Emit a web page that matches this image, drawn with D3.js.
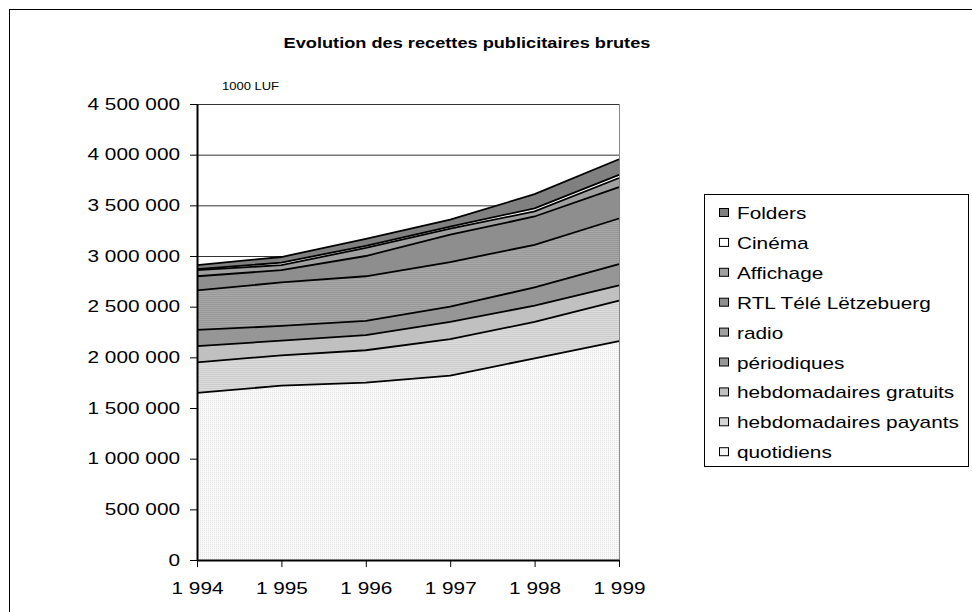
<!DOCTYPE html>
<html>
<head>
<meta charset="utf-8">
<script src="https://cdn.jsdelivr.net/npm/d3@7"></script>
<style>
  body { margin: 0; background: #fff; }
  svg { font-family: Arial, "Liberation Sans", sans-serif; }
</style>
</head>
<body>
<svg id="chart" width="972" height="612"></svg>
<script>
// Data (1000 LUF)
const years = [1994, 1995, 1996, 1997, 1998, 1999];
const quotidiens = [1650000, 1720000, 1750000, 1820000, 1990000, 2160000];
const hebdoPayants = [300000, 300000, 320000, 360000, 360000, 400000];
const hebdoGratuits = [160000, 145000, 150000, 170000, 160000, 150000];
const periodiques = [160000, 145000, 140000, 150000, 180000, 210000];
const radio = [390000, 430000, 440000, 440000, 420000, 450000];
const rtl = [140000, 120000, 200000, 270000, 280000, 310000];
const affichage = [60000, 50000, 80000, 60000, 50000, 90000];
const cinema = [10000, 25000, 20000, 20000, 30000, 30000];
const folders = [40000, 55000, 70000, 70000, 140000, 155000];
const seriesNames = ["quotidiens", "hebdomadaires payants", "hebdomadaires gratuits", "périodiques",
  "radio", "RTL Télé Lëtzebuerg", "Affichage", "Cinéma", "Folders"];
const yTicks = [0, 500000, 1000000, 1500000, 2000000, 2500000, 3000000, 3500000, 4000000, 4500000];

// the picture is wider than the type: stretch text horizontally
const SX = 1.3;

(function() {
  const svg = d3.select('#chart');
  const seriesValues = [quotidiens, hebdoPayants, hebdoGratuits, periodiques, radio, rtl, affichage, cinema, folders];
  const fills = ["url(#dots)", "url(#lightStripes)", "#c0c0c0", "#969696", "url(#stripes)",
    "#8e8e8e", "#a0a0a0", "#ffffff", "#808080"];

  const rows = years.map((y, i) => {
    const row = {year: y};
    seriesNames.forEach((name, s) => { row[name] = seriesValues[s][i]; });
    return row;
  });
  const stacked = d3.stack().keys(seriesNames)(rows);

  const locale = d3.formatLocale({decimal: ",", thousands: " ", grouping: [3], currency: ["", ""]});
  const fmt = locale.format(",d");

  const x = d3.scaleLinear().domain([1994, 1999]).range([197, 619]);
  const y = d3.scaleLinear().domain([0, 4500000]).range([560, 104]);

  createPatterns(svg);

  // outer frame (runs off the right and bottom)
  svg.append("rect").attr("x", 9.5).attr("y", 9.5).attr("width", 1000).attr("height", 1000)
    .attr("fill", "#fff").attr("stroke", "#000").attr("stroke-width", 1);

  stretchText(svg.append("text").attr("x", 467).attr("y", 48).attr("text-anchor", "middle")
    .attr("font-size", 14).attr("font-weight", "bold").text("Evolution des recettes publicitaires brutes"));
  stretchText(svg.append("text").attr("x", 222).attr("y", 90).attr("font-size", 10).text("1000 LUF"));

  // gridlines
  svg.append("g").selectAll("line").data(yTicks.slice(1)).enter().append("line")
    .attr("x1", x(1994)).attr("x2", x(1999)).attr("y1", d => y(d) + 0.5).attr("y2", d => y(d) + 0.5)
    .attr("stroke", "#333").attr("stroke-width", 1);
  svg.append("line").attr("x1", x(1999) + 0.5).attr("x2", x(1999) + 0.5).attr("y1", y(4500000)).attr("y2", y(0))
    .attr("stroke", "#888").attr("stroke-width", 1);

  // areas
  const area = d3.area().x(d => x(d.data.year)).y0(d => y(d[0])).y1(d => y(d[1]));
  const line = d3.line().x(d => x(d.data.year)).y(d => y(d[1]));
  svg.append("g").selectAll("path").data(stacked).enter().append("path")
    .attr("d", area).attr("fill", (d, i) => fills[i]);
  svg.append("g").selectAll("path").data(stacked).enter().append("path")
    .attr("d", line).attr("fill", "none").attr("stroke", "#000").attr("stroke-width", 1.8);

  // axes
  const yAxis = svg.append("g").attr("transform", `translate(${x(1994)},0)`)
    .call(d3.axisLeft(y).tickValues(yTicks).tickFormat(fmt).tickSize(7).tickSizeOuter(0).tickPadding(10));
  const xAxis = svg.append("g").attr("transform", `translate(0,${y(0)})`)
    .call(d3.axisBottom(x).tickValues(years).tickFormat(fmt).tickSize(7).tickSizeOuter(0).tickPadding(16));
  [yAxis, xAxis].forEach(a => {
    a.select(".domain").attr("stroke", "#000").attr("stroke-width", 2);
    a.selectAll(".tick line").attr("stroke", "#000");
    a.selectAll(".tick text").attr("font-size", 16).attr("font-family", "Arial, 'Liberation Sans', sans-serif")
      .attr("fill", "#000").each(function() { stretchText(d3.select(this)); });
  });

  createLegend(svg, fills);
})();

function stretchText(t) {
  const tx = +t.attr("x") || 0;
  t.attr("x", tx / SX).attr("transform", `scale(${SX},1)`);
  return t;
}

function createPatterns(svg) {
  const defs = svg.append("defs");
  const stripes = defs.append("pattern").attr("id", "stripes").attr("patternUnits", "userSpaceOnUse")
    .attr("width", 4).attr("height", 2);
  stripes.append("rect").attr("width", 4).attr("height", 2).attr("fill", "#a8a8a8");
  stripes.append("rect").attr("width", 4).attr("height", 1).attr("fill", "#989898");

  const light = defs.append("pattern").attr("id", "lightStripes").attr("patternUnits", "userSpaceOnUse")
    .attr("width", 4).attr("height", 2);
  light.append("rect").attr("width", 4).attr("height", 2).attr("fill", "#dcdcdc");
  light.append("rect").attr("width", 4).attr("height", 1).attr("fill", "#cdcdcd");

  const dots = defs.append("pattern").attr("id", "dots").attr("patternUnits", "userSpaceOnUse")
    .attr("width", 2).attr("height", 2);
  dots.append("rect").attr("width", 2).attr("height", 2).attr("fill", "#f8f8f8");
  dots.append("rect").attr("width", 1).attr("height", 1).attr("fill", "#e6e6e6");
}

function createLegend(svg, fills) {
  const legend = svg.append("g").attr("class", "legend");
  legend.append("rect").attr("x", 704.5).attr("y", 194.5).attr("width", 264).attr("height", 272)
    .attr("fill", "#fff").attr("stroke", "#000");
  const order = seriesNames.map((d, i) => i).reverse();
  const items = legend.selectAll("g.item").data(order).enter().append("g")
    .attr("transform", (d, i) => `translate(719, ${213 + i * 29.9})`);
  items.append("rect").attr("x", 0.5).attr("y", -4.5).attr("width", 9).attr("height", 8)
    .attr("fill", d => fills[d]).attr("stroke", "#000");
  items.append("text").attr("x", 18).attr("y", 6).attr("font-size", 16).text(d => seriesNames[d])
    .each(function() { stretchText(d3.select(this)); });
}
</script>
</body>
</html>
